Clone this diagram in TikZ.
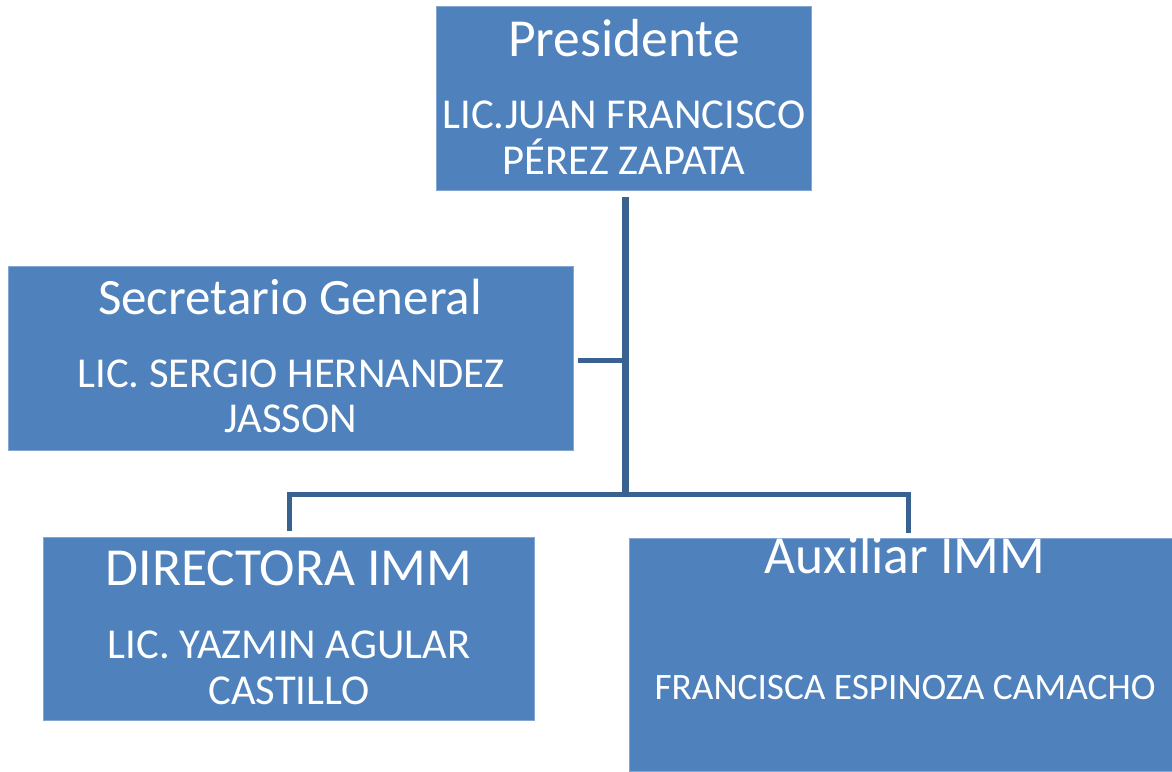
\documentclass[tikz,border=0pt]{standalone}
\usepackage{fontspec}
\setmainfont{Carlito}
\definecolor{boxblue}{HTML}{4F81BD}
\definecolor{linkblue}{HTML}{3A6291}
\begin{document}
\begin{tikzpicture}[x=1pt,y=-1pt,
  box/.style={fill=boxblue, draw=boxblue!70!white, line width=0.6pt, inner sep=0pt, outer sep=0pt},
  ttl/.style={text=white, anchor=base, inner sep=0pt, font=\fontsize{53.5}{54}\selectfont},
  nm/.style={text=white, anchor=base, inner sep=0pt, font=\fontsize{42.6}{46}\selectfont},
  nms/.style={text=white, anchor=base, inner sep=0pt, font=\fontsize{37.3}{40}\selectfont},
  link/.style={draw=linkblue, line width=5pt},
  trunk/.style={draw=linkblue, line width=7pt}]
\useasboundingbox (0,0) rectangle (1172,771);
% boxes
\node[box, minimum width=375pt, minimum height=184pt] (pres) at (623.5,98) {};
\node[box, minimum width=565pt, minimum height=184pt] (sec) at (290.5,358) {};
\node[box, minimum width=491pt, minimum height=183pt] (dir) at (288.5,628.5) {};
\node[box, minimum width=543pt, minimum height=233pt] (aux) at (901,655) {};
% texts
\node[ttl] (presT) at (624,56) {Presidente};
\node[nm] (presN1) at (624,128) {LIC.JUAN FRANCISCO};
\node[nm] (presN2) at (624,174) {PÉREZ ZAPATA};
\node[ttl, font=\fontsize{51}{51}\selectfont] (secT) at (290,314) {Secretario General};
\node[nm] (secN1) at (291,387) {LIC. SERGIO HERNANDEZ};
\node[nm] (secN2) at (291,432) {JASSON};
\node[ttl] (dirT) at (289,585) {DIRECTORA IMM};
\node[nm] (dirN1) at (289,658) {LIC. YAZMIN AGULAR};
\node[nm] (dirN2) at (289,704) {CASTILLO};
\node[ttl] (auxT) at (905,573) {Auxiliar IMM};
\node[nms] (auxN) at (905,699) {FRANCISCA ESPINOZA CAMACHO};
% connector points
\coordinate (trTop) at (625,197);
\coordinate (trBot) at (625,497);
\coordinate (secJ) at (625,360);
\coordinate (secE) at (578,360);
\coordinate (barL) at (289,494);
\coordinate (barR) at (908,494);
\coordinate (dirE) at (289,531);
\coordinate (auxE) at (908,533);
% connectors
\draw[trunk] (trTop) -- (trBot);
\draw[link] (secJ) -- (secE);
\draw[link] (dirE) -- (barL) -- (barR) -- (auxE);
\end{tikzpicture}
\end{document}
